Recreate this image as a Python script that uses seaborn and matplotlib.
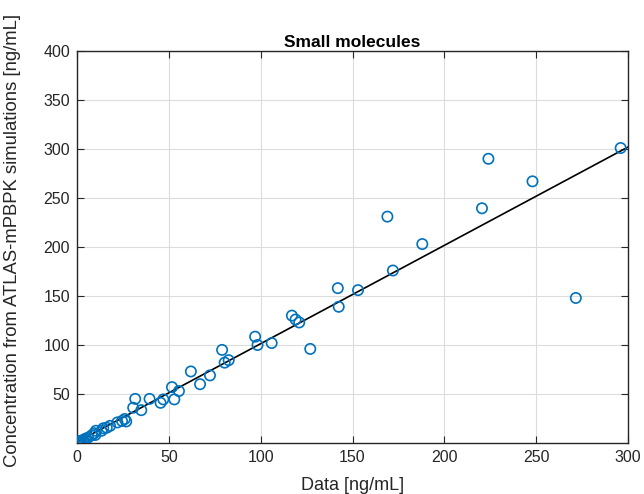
import matplotlib
matplotlib.use("Agg")
import matplotlib.pyplot as plt
import seaborn as sns
import pandas as pd
import numpy as np

data_x = [296, 224, 248, 169, 220.5, 188, 172, 153, 142, 142.5, 271.6, 117, 119, 121, 127,
          97, 98.3, 106, 79, 80.4, 82.6, 62, 72.4, 67, 51.7, 55.5, 53, 47, 45.5, 39.5,
          31.7, 30.6, 35, 26, 24.5, 26.8, 22, 18, 16.2, 14.3, 13.4, 10.3, 9.4, 10, 8,
          6, 4.4, 2.7, 1.5, 0.7, 0.3, 1.0, 2.0, 3.5, 5.0]
sim_y = [301, 290, 267, 231, 239.5, 203, 176, 156, 158, 139, 148, 130, 126, 123, 96,
         108.5, 100, 102, 95, 82, 84.5, 73, 69, 60, 57, 53, 44.5, 44.5, 41, 45,
         45, 36, 33.5, 24.5, 22.5, 22, 21, 17.5, 15.6, 15, 12.5, 12.5, 10, 8.2, 7.8,
         5.5, 4.2, 2.5, 2.0, 1.2, 0.5, 0.8, 1.5, 3.0, 3.8]
line_x = [0, 300]
line_y = [1, 302]

x_ticks = [0, 50, 100, 150, 200, 250, 300]
y_ticks = [50, 100, 150, 200, 250, 300, 350, 400]

sns.set_theme(style="whitegrid")
plt.rcParams['font.family'] = ['Liberation Sans', 'DejaVu Sans']

df = pd.DataFrame({"x": data_x, "y": sim_y})

fig = plt.figure(figsize=(6.44, 4.94), dpi=100)
ax = fig.add_axes([77/644, 51/494, (628-77)/644, (443-51)/494])
ax.set_facecolor("white")

sns.lineplot(x=line_x, y=line_y, ax=ax, color="black", linewidth=1.2)
sns.scatterplot(data=df, x="x", y="y", ax=ax, marker="o",
                edgecolor="#0072BD", linewidth=1.2, s=55, zorder=3)
coll = ax.collections[-1]
coll.set_facecolor("none")
coll.set_edgecolor("#0072BD")

ax.set_xlim(0, 300)
ax.set_ylim(0, 400)
ax.set_xticks(x_ticks)
ax.set_yticks(y_ticks)
ax.grid(True, color="#dcdcdc", linewidth=0.8)
for s in ax.spines.values():
    s.set_visible(True)
    s.set_color("#262626")
    s.set_linewidth(1.0)
ax.tick_params(direction="in", length=5, width=0.8, colors="#262626",
               labelsize=11.5, top=True, right=True, bottom=True, left=True,
               labelcolor="#262626", pad=5)
ax.set_xlabel("Data [ng/mL]", fontsize=13, color="#262626")
ax.set_ylabel("Concentration from ATLAS-mPBPK simulations [ng/mL]", fontsize=13.3, color="#262626")
ax.xaxis.set_label_coords(0.5, -0.086)
ax.yaxis.set_label_coords(-0.102, 0.518)
ax.set_title("Small molecules", fontsize=12.5, fontweight="bold", pad=3, color="black")

fig.savefig("out.png", dpi=100, facecolor="white")
